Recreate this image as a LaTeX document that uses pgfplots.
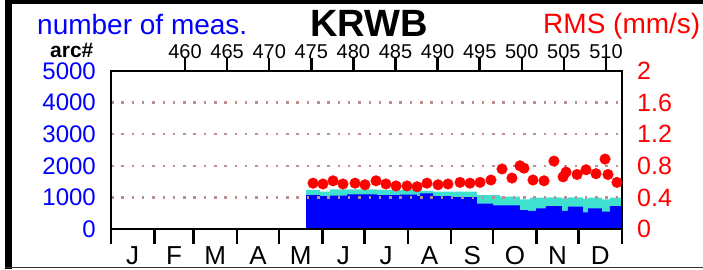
\documentclass[border=0pt]{standalone}
\usepackage{pgfplots}
\pgfplotsset{compat=1.18}
\usepackage{fontspec}
\setmainfont{Liberation Sans}
\definecolor{myblue}{RGB}{0,0,255}
\definecolor{turq}{RGB}{64,224,208}
\definecolor{myred}{RGB}{255,0,0}
\definecolor{gridc}{RGB}{188,143,143}
\newcommand{\fs}[1]{\fontsize{#1}{#1}\selectfont}
\begin{document}
\begin{tikzpicture}
\path[use as bounding box] (0pt,0pt) rectangle (703pt,269pt);
\fill[black] (5pt,0pt) rectangle (12pt,269pt);
\fill[black] (5pt,265pt) rectangle (703pt,269pt);
\fill[black!80] (5pt,0.6pt) rectangle (703pt,2.0pt);
\pgfplotsset{base/.style={at={(111pt,40pt)}, anchor=south west, width=511pt, height=158pt, scale only axis}}
% main axis: number of measurements
\begin{axis}[base, xmin=0, xmax=365, ymin=0, ymax=5000,
  axis on top, axis line style={line width=2.5pt},
  xtick={0,31,59,90,120,151,181,212,243,273,304,334,365},
  xticklabels={J,F,M,A,M,J,J,A,S,O,N,D},
  x tick label as interval,
  xtick pos=left, tick align=outside, major tick length=15pt,
  xtick style={line width=2.5pt, black},
  xticklabel style={font=\fs{26}, inner sep=0pt, yshift=-2pt},
  ytick={0,1000,2000,3000,4000,5000}, yticklabels={0,1000,2000,3000,4000,5000},
  ytick pos=left, ytick style={draw=none},
  yticklabel style={font=\fs{24}, text=myblue, inner sep=0pt},
  ymajorgrids, grid style={gridc, line width=2.5pt, dash pattern=on 2.5pt off 7.8pt},
]
\addplot[const plot, fill=turq, draw=none] coordinates {
(139.3,1234) (149.3,1180) (156.4,1256) (190.0,1240) (206.4,1234) (220.7,1210)
(230.0,1180) (261.4,1076) (277.9,1022) (292.1,940) (299.3,990) (311.4,1003)
(322.1,970) (326.4,1003) (337.1,950) (340.7,990) (350.7,940) (356.4,990) (365,990)} \closedcycle;
\addplot[const plot, fill=myblue, draw=none] coordinates {
(139.3,1076) (149.3,1040) (156.4,1060) (168.6,1098) (190.0,1076) (206.4,1090)
(218.6,1040) (220.7,1130) (230.0,1040) (244.3,1010) (261.4,800) (272.9,750)
(292.1,600) (297.9,570) (303.6,655) (310.7,728) (322.1,570) (326.4,706)
(337.1,528) (340.7,655) (350.7,548) (356.4,728) (365,728)} \closedcycle;
\end{axis}
% month boundary ticks: short line plots below the box (unclipped)
\begin{axis}[base, xmin=0, xmax=365, ymin=0, ymax=5000, axis lines=none, ticks=none, clip=false]
\addplot[black, line width=2.5pt, forget plot] coordinates {(0,0) (0,-474)};
\addplot[black, line width=2.5pt, forget plot] coordinates {(31,0) (31,-474)};
\addplot[black, line width=2.5pt, forget plot] coordinates {(59,0) (59,-474)};
\addplot[black, line width=2.5pt, forget plot] coordinates {(90,0) (90,-474)};
\addplot[black, line width=2.5pt, forget plot] coordinates {(120,0) (120,-474)};
\addplot[black, line width=2.5pt, forget plot] coordinates {(151,0) (151,-474)};
\addplot[black, line width=2.5pt, forget plot] coordinates {(181,0) (181,-474)};
\addplot[black, line width=2.5pt, forget plot] coordinates {(212,0) (212,-474)};
\addplot[black, line width=2.5pt, forget plot] coordinates {(243,0) (243,-474)};
\addplot[black, line width=2.5pt, forget plot] coordinates {(273,0) (273,-474)};
\addplot[black, line width=2.5pt, forget plot] coordinates {(304,0) (304,-474)};
\addplot[black, line width=2.5pt, forget plot] coordinates {(334,0) (334,-474)};
\addplot[black, line width=2.5pt, forget plot] coordinates {(365,0) (365,-474)};
\end{axis}
% arc ticks: short line plots above the box (unclipped)
\begin{axis}[base, xmin=451.21, xmax=511.9, ymin=0, ymax=5000, axis lines=none, ticks=none, clip=false]
\addplot[black, line width=2.5pt, forget plot] coordinates {(460,5000) (460,5400)};
\addplot[black, line width=2.5pt, forget plot] coordinates {(465,5000) (465,5400)};
\addplot[black, line width=2.5pt, forget plot] coordinates {(470,5000) (470,5400)};
\addplot[black, line width=2.5pt, forget plot] coordinates {(475,5000) (475,5400)};
\addplot[black, line width=2.5pt, forget plot] coordinates {(480,5000) (480,5400)};
\addplot[black, line width=2.5pt, forget plot] coordinates {(485,5000) (485,5400)};
\addplot[black, line width=2.5pt, forget plot] coordinates {(490,5000) (490,5400)};
\addplot[black, line width=2.5pt, forget plot] coordinates {(495,5000) (495,5400)};
\addplot[black, line width=2.5pt, forget plot] coordinates {(500,5000) (500,5400)};
\addplot[black, line width=2.5pt, forget plot] coordinates {(505,5000) (505,5400)};
\addplot[black, line width=2.5pt, forget plot] coordinates {(510,5000) (510,5400)};
\end{axis}
% RMS axis
\begin{axis}[base, xmin=0, xmax=365, ymin=0, ymax=2,
  hide x axis, axis y line*=right, axis line style={draw=none},
  ytick={0,0.4,0.8,1.2,1.6,2}, yticklabels={0,0.4,0.8,1.2,1.6,2},
  ytick style={draw=none},
  yticklabel style={font=\fs{25}, text=myred, inner sep=0pt, xshift=15pt},
]
\addplot[only marks, mark=*, mark size=5.3pt, color=myred] coordinates {
(144.3,0.58) (151.4,0.57) (158.6,0.61) (165.7,0.57) (174.3,0.58) (181.4,0.56)
(189.3,0.61) (196.4,0.57) (203.6,0.545) (211.4,0.545) (218.6,0.535) (225.7,0.58)
(233.6,0.56) (240.7,0.57) (249.3,0.59) (256.4,0.58) (263.6,0.59) (271.4,0.62)
(279.3,0.76) (286.4,0.645) (292.1,0.80) (295.0,0.77) (301.4,0.62) (309.3,0.61)
(316.4,0.86) (322.9,0.66) (325.0,0.72) (332.9,0.69) (339.3,0.75) (346.4,0.70)
(352.9,0.885) (355.0,0.69) (361.4,0.59)};
\end{axis}
% arc axis labels
\begin{axis}[base, xmin=451.21, xmax=511.9, ymin=0, ymax=1,
  hide y axis, axis x line*=top, axis line style={draw=none},
  xtick={460,465,470,475,480,485,490,495,500,505,510},
  xticklabels={460,465,470,475,480,485,490,495,500,505,510},
  tick align=outside, major tick length=12pt,
  xtick style={line width=2.5pt, black},
  xticklabel style={font=\fs{20}, inner sep=0pt},
]
\end{axis}
\node[anchor=base west, text=myblue, font=\fs{28}, inner sep=0] at (37pt,235pt) {number of meas.};
\node[anchor=base west, font=\bfseries\fs{38}, inner sep=0] at (310pt,233pt) {KRWB};
\node[anchor=base west, text=myred, font=\fs{28}, inner sep=0] at (543pt,236pt) {RMS (mm/s)};
\node[anchor=base west, font=\bfseries\fs{21}, inner sep=0] at (50pt,212pt) {arc\#};
\end{tikzpicture}
\end{document}
